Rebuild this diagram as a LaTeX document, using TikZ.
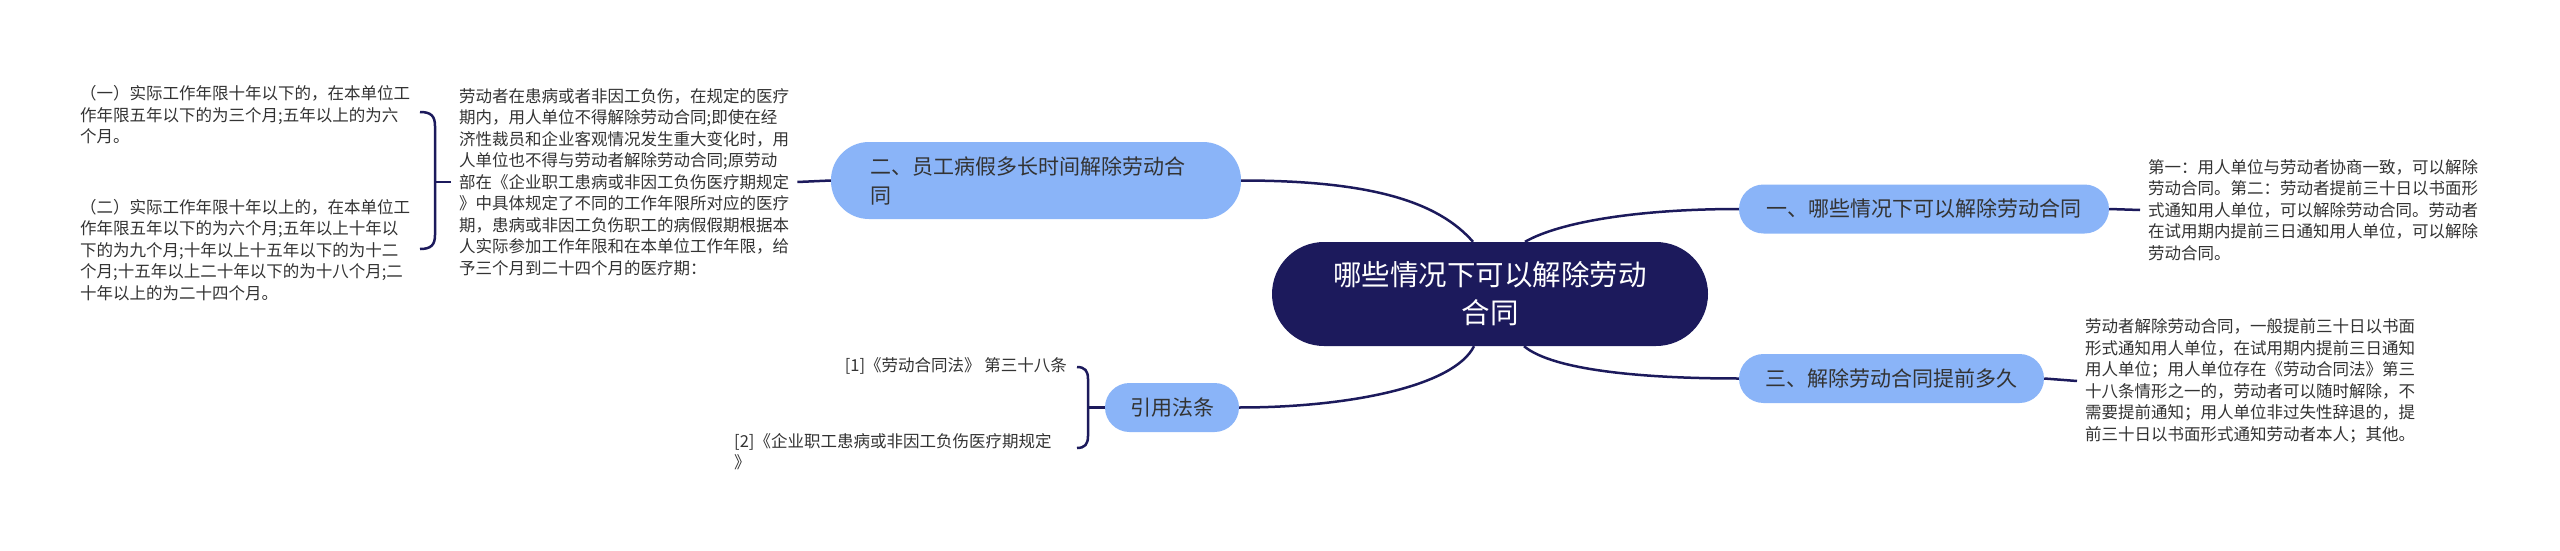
\documentclass[tikz,border=0pt]{standalone}
\usepackage{fontspec}
\setmainfont{Noto Sans CJK SC}
\usetikzlibrary{calc}
\definecolor{navy}{HTML}{1C1A5C}
\definecolor{leafblue}{HTML}{8AB4F8}
\definecolor{txt}{HTML}{333333}
\begin{document}
\begin{tikzpicture}[x=1pt,y=-1pt,
  conn/.style={draw=navy, line width=2.5pt},
  central/.style={fill=navy, text=white, rounded corners=52pt, minimum width=436pt, minimum height=104pt, align=center, inner sep=0pt, font=\fontsize{28.5}{38}\selectfont},
  topic/.style={fill=leafblue, text=txt, rounded corners=24.5pt, minimum height=49pt, inner sep=0pt, font=\fontsize{21}{29}\selectfont},
  body/.style={text=txt, align=left, inner xsep=8pt, inner ysep=0pt, font=\fontsize{16.5}{21.5}\selectfont},
]
\useasboundingbox (0,0) rectangle (2560,551);
\fill[white] (0,0) rectangle (2560,551);

% central and topics
\node[central] (c) at (1490,294) {哪些情况下可以解除劳动\\合同};
\node[topic, minimum width=370pt] (n1) at (1924,209) {一、哪些情况下可以解除劳动合同};
\node[topic, minimum width=410pt, minimum height=77pt, text width=332pt, align=left, rounded corners=38pt] (n2) at (1036,180.5) {二、员工病假多长时间解除劳动合\\同};
\node[topic, minimum width=305pt] (n4) at (1891.5,378.5) {三、解除劳动合同提前多久};
\node[topic, minimum width=134pt] (yy) at (1172,407.5) {引用法条};

% text blocks
\node[body, anchor=west] (t1) at (2140,210) {第一：用人单位与劳动者协商一致，可以解除\\劳动合同。第二：劳动者提前三十日以书面形\\式通知用人单位，可以解除劳动合同。劳动者\\在试用期内提前三日通知用人单位，可以解除\\劳动合同。};
\node[body, anchor=west] (t3) at (2077,381) {劳动者解除劳动合同，一般提前三十日以书面\\形式通知用人单位，在试用期内提前三日通知\\用人单位；用人单位存在《劳动合同法》第三\\十八条情形之一的，劳动者可以随时解除，不\\需要提前通知；用人单位非过失性辞退的，提\\前三十日以书面形式通知劳动者本人；其他。};
\node[body, anchor=west] (t2) at (451,182) {劳动者在患病或者非因工负伤，在规定的医疗\\期内，用人单位不得解除劳动合同;即使在经\\济性裁员和企业客观情况发生重大变化时，用\\人单位也不得与劳动者解除劳动合同;原劳动\\部在《企业职工患病或非因工负伤医疗期规定\\》中具体规定了不同的工作年限所对应的医疗\\期，患病或非因工负伤职工的病假假期根据本\\人实际参加工作年限和在本单位工作年限，给\\予三个月到二十四个月的医疗期：};
\node[body, anchor=west] (i1) at (72,115) {（一）实际工作年限十年以下的，在本单位工\\作年限五年以下的为三个月;五年以上的为六\\个月。};
\node[body, anchor=west] (i2) at (72,250) {（二）实际工作年限十年以上的，在本单位工\\作年限五年以下的为六个月;五年以上十年以\\下的为九个月;十年以上十五年以下的为十二\\个月;十五年以上二十年以下的为十八个月;二\\十年以上的为二十四个月。};
\node[body, anchor=east] (r1) at (1075,366) {[1]《劳动合同法》 第三十八条};
\node[body, anchor=west] (r2) at (726,451.5) {[2]《企业职工患病或非因工负伤医疗期规定\\》};

% main connectors
\draw[conn] (n2.east) .. controls +(130,0) and +(-35,-40) .. ($(c.north)+(-17,0)$);
\draw[conn] ($(c.north)+(35,0)$) .. controls +(35,-20) and +(-100,0) .. (n1.west);
\draw[conn] ($(c.south)+(-16,0)$) .. controls +(-20,40) and +(110,0) .. (yy.east);
\draw[conn] ($(c.south)+(34,0)$) .. controls +(30,25) and +(-90,0) .. (n4.west);

% short connectors
\draw[conn] (n1.east) -- (t1.west);
\draw[conn] (n4.east) -- (t3.west);
\draw[conn] (n2.west) -- (t2.east);

% left brace
\coordinate (lbx) at (435,0);
\coordinate (lbt) at (420,112);
\coordinate (lbb) at (420,249);
\draw[conn] (lbt) .. controls (431,112) and (435,116) .. (435,126) -- (435,235) .. controls (435,245) and (431,249) .. (lbb);
\draw[conn] (t2.west) -- (t2.west -| lbx);

% right brace
\coordinate (rbx) at (1088,0);
\coordinate (rbt) at (1077,367);
\coordinate (rbb) at (1077,448);
\draw[conn] (rbt) .. controls (1085,367) and (1088,371) .. (1088,379) -- (1088,436) .. controls (1088,444) and (1085,448) .. (rbb);
\draw[conn] (yy.west) -- (yy.west -| rbx);
\end{tikzpicture}
\end{document}
